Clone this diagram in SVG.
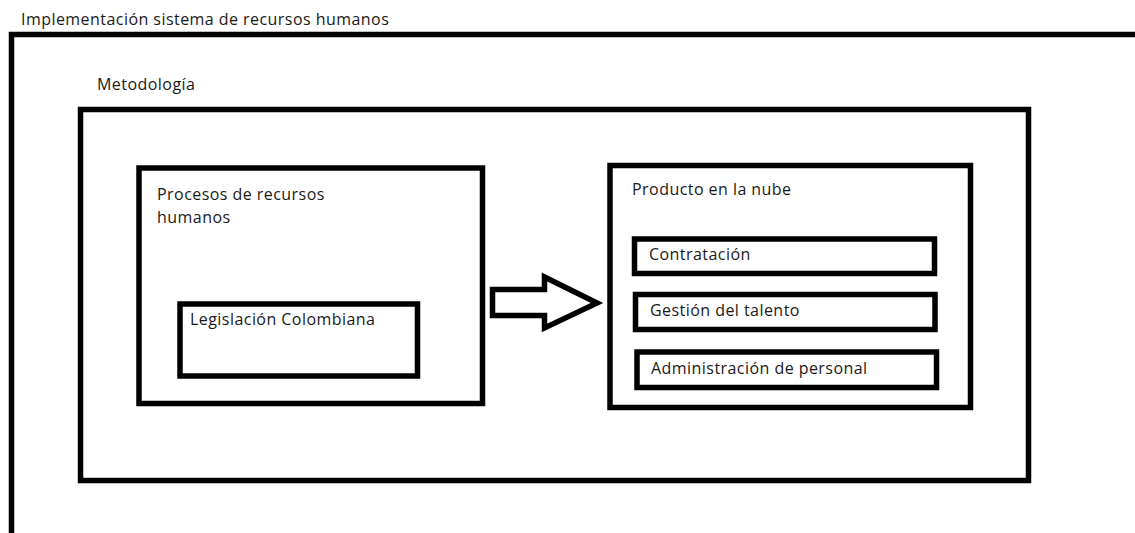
<svg xmlns="http://www.w3.org/2000/svg" width="1135" height="533" viewBox="0 0 1135 533">
<style>
.box{fill:none;stroke:#000;stroke-width:5.5}
.t{font-family:"Open Sans","Noto Sans",sans-serif;font-size:16px;letter-spacing:0.45px;fill:#1a1a1a}
</style>
<rect width="1135" height="533" fill="#fff"/>
<g id="frame">
<path d="M11.5,533 V34.5 H1135" class="box"/>
<text class="t" x="21" y="25">Implementación sistema de recursos humanos</text>
</g>
<g id="metodologia">
<rect class="box" x="80.5" y="109.5" width="948" height="371"/>
<text class="t" x="97" y="90">Metodología</text>
</g>
<g id="procesos">
<rect class="box" x="139" y="168" width="343.5" height="235.5"/>
<text class="t" x="157" y="200">Procesos de recursos</text>
<text class="t" x="157" y="223">humanos</text>
</g>
<g id="legislacion">
<rect class="box" x="180" y="304" width="237.5" height="72"/>
<text class="t" x="190" y="325">Legislación Colombiana</text>
</g>
<g id="producto">
<rect class="box" x="610" y="165.5" width="360.5" height="242"/>
<text class="t" x="632" y="195">Producto en la nube</text>
</g>
<g id="contratacion">
<rect class="box" x="634.5" y="239" width="300" height="34.5"/>
<text class="t" x="649" y="260">Contratación</text>
</g>
<g id="gestion">
<rect class="box" x="635.5" y="294.5" width="299.5" height="35"/>
<text class="t" x="650" y="316">Gestión del talento</text>
</g>
<g id="administracion">
<rect class="box" x="637" y="352" width="299.5" height="35.5"/>
<text class="t" x="651" y="374">Administración de personal</text>
</g>
<g id="connectors">
<path class="box" stroke-linejoin="miter" d="M492.5,289.5 H544.5 V277 L597,303 L544.5,328 V315.5 H492.5 Z"/>
</g>
</svg>
